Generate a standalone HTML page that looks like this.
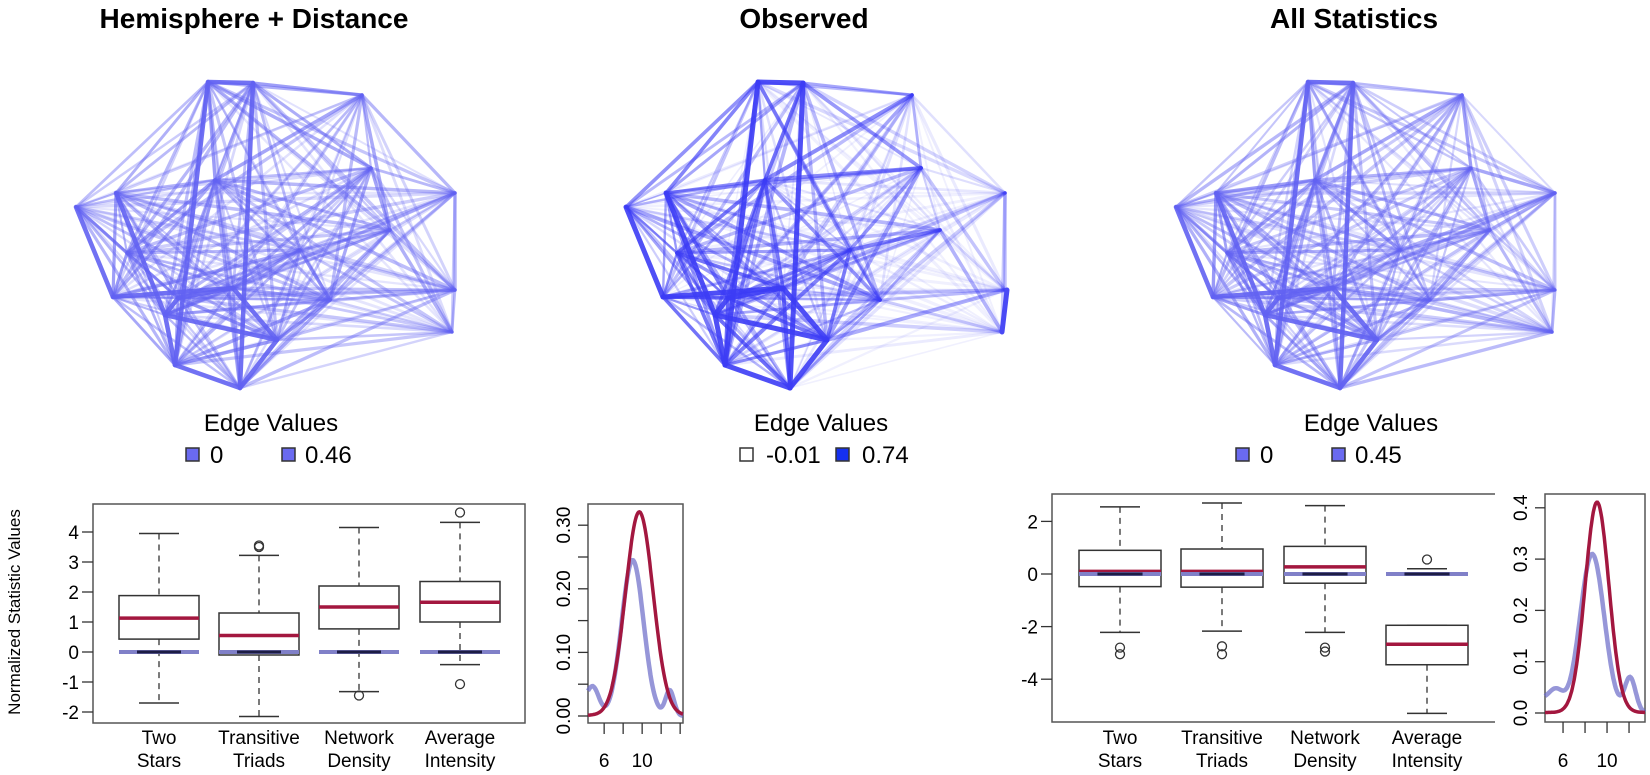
<!DOCTYPE html>
<html><head><meta charset="utf-8"><style>
html,body{margin:0;padding:0;background:#fff;}
svg{display:block;}
text{font-family:"Liberation Sans",Arial,sans-serif;fill:#000;}
</style></head><body>
<svg id="s" width="1650" height="775" xmlns="http://www.w3.org/2000/svg">
<g font-size="28" font-weight="bold" text-anchor="middle">
<text x="254" y="28">Hemisphere + Distance</text>
<text x="804" y="28">Observed</text>
<text x="1354" y="28">All Statistics</text>
</g>
<g id="nets"></g>
<g font-size="24">
<text x="271" y="431" text-anchor="middle">Edge Values</text>
<rect x="186" y="448" width="13" height="13" fill="#6a6af0" stroke="#333" stroke-width="1.5"/>
<text x="210" y="463">0</text>
<rect x="282" y="448" width="13" height="13" fill="#6a6af0" stroke="#333" stroke-width="1.5"/>
<text x="305" y="463">0.46</text>

<text x="821" y="431" text-anchor="middle">Edge Values</text>
<rect x="740" y="448" width="13" height="13" fill="#fff" stroke="#333" stroke-width="1.5"/>
<text x="766" y="463">-0.01</text>
<rect x="836" y="448" width="13" height="13" fill="#1530f0" stroke="#333" stroke-width="1.5"/>
<text x="862" y="463">0.74</text>

<text x="1371" y="431" text-anchor="middle">Edge Values</text>
<rect x="1236" y="448" width="13" height="13" fill="#6a6af0" stroke="#333" stroke-width="1.5"/>
<text x="1260" y="463">0</text>
<rect x="1332" y="448" width="13" height="13" fill="#6a6af0" stroke="#333" stroke-width="1.5"/>
<text x="1355" y="463">0.45</text>
</g>
<g id="plots"></g>
</svg>
<script>
var NS="http://www.w3.org/2000/svg";
function el(p,t,a,txt){var e=document.createElementNS(NS,t);for(var k in a)e.setAttribute(k,a[k]);if(txt!==undefined)e.textContent=txt;p.appendChild(e);return e;}
var nets=document.getElementById('nets'),plots=document.getElementById('plots');
var nodes=[[76,207],[116,193],[208,82],[253,83],[362,95],[455,193],[371,168],[113,297],[233,288],[165,315],[178,298],[277,340],[175,365],[240,388],[455,290],[452,332],[127,253],[300,250],[390,230],[215,180],[330,300]];
var seed=7;function rnd(){seed=(seed*16807)%2147483647;return seed/2147483647;}
var bold=[[10,8],[8,11],[11,13],[13,12],[12,9],[9,10],[3,13],[2,12],[1,9],[0,7],[7,8],[9,11],[2,3]];
function isBold(i,j){for(var k=0;k<bold.length;k++){var b=bold[k];if((b[0]==i&&b[1]==j)||(b[0]==j&&b[1]==i))return true;}return false;}
[0,550,1100].forEach(function(off,pi){
  seed=11+pi*3;
  var g=el(nets,'g',{});
  var list=[];
  for(var i=0;i<nodes.length;i++)for(var j=i+1;j<nodes.length;j++){
    var a=nodes[i],b=nodes[j];
    var d=Math.hypot(a[0]-b[0],a[1]-b[1]);
    var r=rnd();
    var op,w;
    if(pi==1){
      var rightness=Math.max(0,((a[0]+b[0])/2-250)/200);
      op=Math.max(0.08,0.75-d/500-rightness*0.35+ (r-0.5)*0.5);
      w=1.5+r*2.5;
    } else {
      op=Math.max(0.2,0.8-d/600+(r-0.5)*0.3);
      var rightness2=Math.max(0,((a[0]+b[0])/2-330)/150);
      op=Math.max(0.12,op-rightness2*0.25)*0.85;
      w=2+r*1.5;
    }
    if(isBold(i,j)){op=0.9;w=pi==1?5:4.5;}
    list.push([op,a,b,w]);
  }
  list.sort(function(x,y){return x[0]-y[0];});
  list.forEach(function(e){
    el(g,'line',{x1:e[1][0]+off,y1:e[1][1],x2:e[2][0]+off,y2:e[2][1],stroke:pi==1?'#3c3cf5':'#6262f2','stroke-opacity':e[0].toFixed(2),'stroke-width':e[3].toFixed(1),'stroke-linecap':'round'});
  });
  if(pi==1){el(g,'line',{x1:1007,y1:290,x2:1002,y2:332,stroke:'#4a4af5','stroke-width':5,'stroke-linecap':'round'});}
});

function boxplot(cfg){
  var g=el(plots,'g',{});
  var Y=function(v){return cfg.y0-v*cfg.u;};
  if(cfg.noRight){
    el(g,'path',{d:'M'+cfg.x2+' '+cfg.top+' H'+cfg.x1+' V'+cfg.bot+' H'+cfg.x2b,fill:'none',stroke:'#555','stroke-width':1.5});
  } else el(g,'rect',{x:cfg.x1,y:cfg.top,width:cfg.x2-cfg.x1,height:cfg.bot-cfg.top,fill:'none',stroke:'#555','stroke-width':1.5});
  cfg.ticks.forEach(function(t){
    el(g,'line',{x1:cfg.x1-11,x2:cfg.x1,y1:Y(t),y2:Y(t),stroke:'#333','stroke-width':1.3});
    el(g,'text',{x:cfg.x1-14,y:Y(t)+7,'font-size':19,'text-anchor':'end'},t<0?'-'+(-t):''+t);
  });
  cfg.boxes.forEach(function(b,i){
    var c=cfg.cx[i],hw=cfg.hw;
    el(g,'line',{x1:c,x2:c,y1:Y(b.w[1]),y2:Y(b.q[1]),stroke:'#333','stroke-width':1.3,'stroke-dasharray':'6,5'});
    el(g,'line',{x1:c,x2:c,y1:Y(b.q[0]),y2:Y(b.w[0]),stroke:'#333','stroke-width':1.3,'stroke-dasharray':'6,5'});
    el(g,'line',{x1:c-20,x2:c+20,y1:Y(b.w[1]),y2:Y(b.w[1]),stroke:'#333','stroke-width':1.5});
    el(g,'line',{x1:c-20,x2:c+20,y1:Y(b.w[0]),y2:Y(b.w[0]),stroke:'#333','stroke-width':1.5});
    el(g,'rect',{x:c-hw,y:Y(b.q[1]),width:2*hw,height:Y(b.q[0])-Y(b.q[1]),fill:'#fff',stroke:'#333','stroke-width':1.5});
    el(g,'line',{x1:c-hw,x2:c+hw,y1:Y(b.m),y2:Y(b.m),stroke:'#a3173f','stroke-width':3.5});
    (b.o||[]).forEach(function(o){el(g,'circle',{cx:c,cy:Y(o),r:4.5,fill:'none',stroke:'#333','stroke-width':1.3});});
    if(b.cap)el(g,'line',{x1:c-20,x2:c+20,y1:Y(b.cap),y2:Y(b.cap),stroke:'#333','stroke-width':1.5});
    el(g,'line',{x1:c-hw,x2:c+hw,y1:Y(0),y2:Y(0),stroke:'#8080c8','stroke-width':4});
    el(g,'line',{x1:c-hw*0.55,x2:c+hw*0.55,y1:Y(0),y2:Y(0),stroke:'#1d1d45','stroke-width':3});
    var lb=cfg.labels[i];
    el(g,'text',{x:c,y:744,'font-size':19,'text-anchor':'middle'},lb[0]);
    el(g,'text',{x:c,y:767,'font-size':19,'text-anchor':'middle'},lb[1]);
  });
}
var labels=[['Two','Stars'],['Transitive','Triads'],['Network','Density'],['Average','Intensity']];
boxplot({x1:93,x2:525,top:504,bot:723,y0:652,u:30,ticks:[-2,-1,0,1,2,3,4],cx:[159,259,359,460],hw:40,labels:labels,
 boxes:[{w:[-1.7,3.95],q:[0.43,1.88],m:1.13},{w:[-2.15,3.22],q:[-0.1,1.3],m:0.55,o:[3.5,3.55]},{w:[-1.32,4.15],q:[0.77,2.2],m:1.5,o:[-1.45]},{w:[-0.42,4.32],q:[1.0,2.35],m:1.66,o:[4.65,-1.07]}]});
boxplot({x1:1052,x2:1495,x2b:1495,noRight:true,top:494,bot:722,y0:574,u:26.3,ticks:[-4,-2,0,2],cx:[1120,1222,1325,1427],hw:41,labels:labels,
 boxes:[{w:[-2.22,2.55],q:[-0.48,0.9],m:0.1,o:[-2.8,-3.05]},{w:[-2.17,2.7],q:[-0.5,0.95],m:0.1,o:[-2.75,-3.05]},{w:[-2.22,2.6],q:[-0.35,1.05],m:0.27,o:[-2.8,-2.95]},{w:[-5.3,-1.95],q:[-3.45,-1.95],m:-2.67,o:[0.55],cap:0.2}]});
el(plots,'text',{x:0,y:0,'font-size':17,'text-anchor':'middle',transform:'translate(20,612) rotate(-90)'},'Normalized Statistic Values');

function gauss(x,m,s,h){return h*Math.exp(-(x-m)*(x-m)/(2*s*s));}
function density(cfg){
  var g=el(plots,'g',{});
  var X=function(v){return cfg.x1+(v-cfg.xmin)*cfg.ux;},Y=function(v){return cfg.y0-v*cfg.uy;};
  el(g,'rect',{x:cfg.x1,y:cfg.top,width:cfg.x2-cfg.x1,height:cfg.bot-cfg.top,fill:'none',stroke:'#555','stroke-width':1.5});
  cfg.yt.forEach(function(t){el(g,'line',{x1:cfg.x1-10,x2:cfg.x1,y1:Y(t),y2:Y(t),stroke:'#333','stroke-width':1.3});});
  cfg.yl.forEach(function(t){var yy=Y(+t);el(g,'text',{x:0,y:0,'font-size':19,'text-anchor':'middle',transform:'translate('+(cfg.x1-18)+','+yy+') rotate(-90)'},t);});
  [6,8,10,12,14].forEach(function(t){var xx=X(t);if(xx<=cfg.x2+1)el(g,'line',{x1:xx,x2:xx,y1:cfg.bot,y2:cfg.bot+11,stroke:'#333','stroke-width':1.3});});
  el(g,'text',{x:X(6),y:767,'font-size':19,'text-anchor':'middle'},'6');
  el(g,'text',{x:X(10),y:767,'font-size':19,'text-anchor':'middle'},'10');
  function path(f){var d='';for(var i=0;i<=120;i++){var v=cfg.xmin+(cfg.xmax-cfg.xmin)*i/120;d+=(i?'L':'M')+X(v).toFixed(1)+' '+Y(f(v)).toFixed(1);}return d;}
  el(g,'path',{d:path(cfg.blue),fill:'none',stroke:'#6a6ac8','stroke-opacity':0.7,'stroke-width':4.5});
  el(g,'path',{d:path(cfg.red),fill:'none',stroke:'#a3173f','stroke-width':3.5});
}
density({x1:588,x2:683,top:504,bot:723,xmin:4.3,xmax:14.3,ux:9.5,y0:716,uy:636,yt:[0,0.05,0.1,0.15,0.2,0.25,0.3],yl:['0.00','0.10','0.20','0.30'],
 red:function(x){return gauss(x,9.7,1.45,0.32)+0.001;},
 blue:function(x){return gauss(x,9.0,1.15,0.245)+gauss(x,4.9,0.6,0.038)+gauss(x,12.9,0.45,0.04)+gauss(x,3.8,0.8,0.02);}});
density({x1:1545,x2:1645,top:494,bot:722,xmin:4.36,xmax:13.45,ux:11,y0:713,uy:513,yt:[0,0.1,0.2,0.3,0.4],yl:['0.0','0.1','0.2','0.3','0.4'],
 red:function(x){return gauss(x,9.09,1.08,0.41)+0.001;},
 blue:function(x){return gauss(x,8.65,1.1,0.31)+gauss(x,5.3,0.7,0.044)+gauss(x,12.1,0.5,0.068)+gauss(x,3.9,0.6,0.02);}});
</script>
</body></html>
